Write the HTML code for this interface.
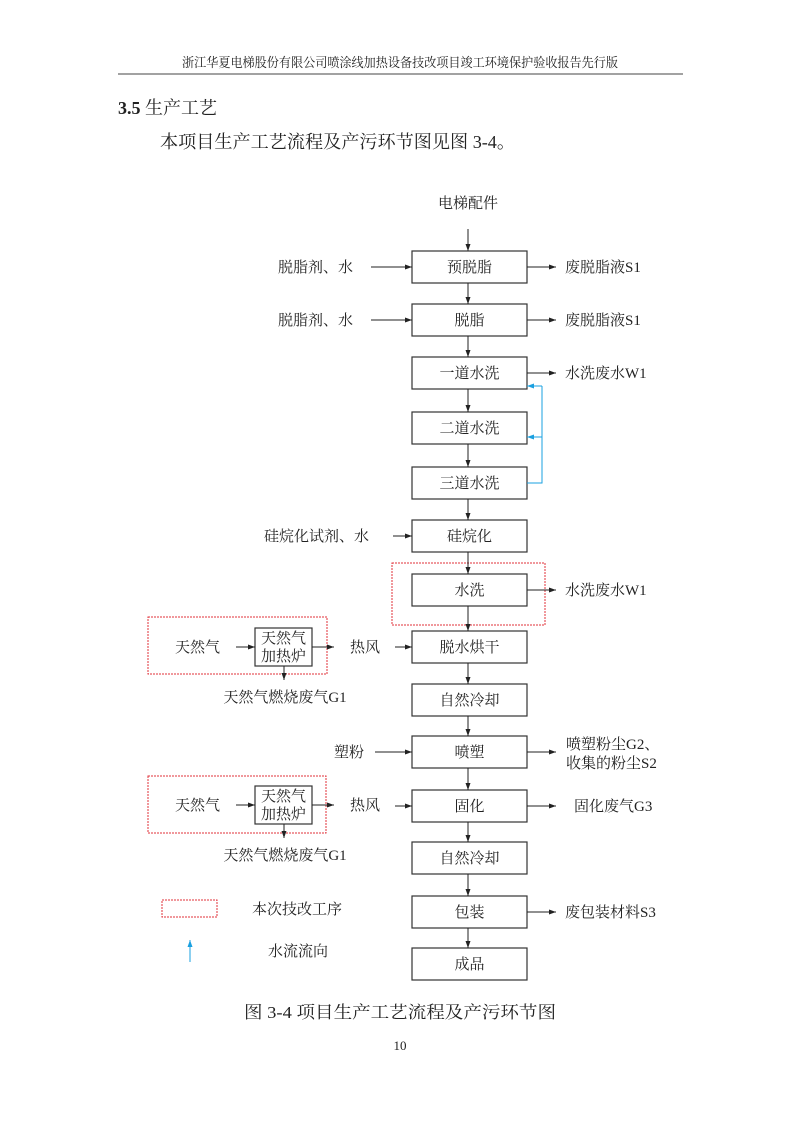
<!DOCTYPE html>
<html><head><meta charset="utf-8"><style>
html,body{margin:0;padding:0;background:#fff}
svg{display:block}
text{font-family:"Liberation Serif","Noto Serif CJK SC",serif;fill:#222}
</style></head><body>
<svg width="800" height="1132" viewBox="0 0 800 1132" xmlns="http://www.w3.org/2000/svg">
<defs>
<marker id="a" markerWidth="8" markerHeight="6" refX="7" refY="3" orient="auto" markerUnits="userSpaceOnUse"><path d="M0,0.5 L7,3 L0,5.5z" fill="#222"/></marker>
<marker id="b" markerWidth="8" markerHeight="6" refX="7" refY="3" orient="auto" markerUnits="userSpaceOnUse"><path d="M0,0.5 L7,3 L0,5.5z" fill="#1aa0e0"/></marker>
</defs>
<text x="400" y="67" font-size="13" text-anchor="middle" textLength="436" lengthAdjust="spacingAndGlyphs">浙江华夏电梯股份有限公司喷涂线加热设备技改项目竣工环境保护验收报告先行版</text>
<line x1="118" y1="74" x2="683" y2="74" stroke="#444" stroke-width="1"/>
<text x="118" y="114" font-size="18"><tspan font-weight="bold">3.5</tspan> 生产工艺</text>
<text x="160" y="148" font-size="18" textLength="355" lengthAdjust="spacingAndGlyphs">本项目生产工艺流程及产污环节图见图 3-4。</text>

<g font-size="15">
<text x="468" y="208" text-anchor="middle">电梯配件</text>
<line x1="468" y1="229" x2="468" y2="251" stroke="#222" marker-end="url(#a)"/>

<g fill="none" stroke="#333" stroke-width="1.2">
<rect x="412" y="251" width="115" height="32"/>
<rect x="412" y="304" width="115" height="32"/>
<rect x="412" y="357" width="115" height="32"/>
<rect x="412" y="412" width="115" height="32"/>
<rect x="412" y="467" width="115" height="32"/>
<rect x="412" y="520" width="115" height="32"/>
<rect x="412" y="574" width="115" height="32"/>
<rect x="412" y="631" width="115" height="32"/>
<rect x="412" y="684" width="115" height="32"/>
<rect x="412" y="736" width="115" height="32"/>
<rect x="412" y="790" width="115" height="32"/>
<rect x="412" y="842" width="115" height="32"/>
<rect x="412" y="896" width="115" height="32"/>
<rect x="412" y="948" width="115" height="32"/>
<rect x="255" y="628" width="57" height="38"/>
<rect x="255" y="786" width="57" height="38"/>
</g>
<g fill="none" stroke="#e0303a" stroke-width="1" stroke-dasharray="2,1">
<rect x="392" y="563" width="153" height="62"/>
<rect x="148" y="617" width="179" height="57"/>
<rect x="148" y="776" width="178" height="57"/>
<rect x="162" y="900" width="55" height="17"/>
</g>

<g stroke="#222" stroke-width="1" marker-end="url(#a)">
<line x1="468" y1="283" x2="468" y2="304"/>
<line x1="468" y1="336" x2="468" y2="357"/>
<line x1="468" y1="389" x2="468" y2="412"/>
<line x1="468" y1="444" x2="468" y2="467"/>
<line x1="468" y1="499" x2="468" y2="520"/>
<line x1="468" y1="552" x2="468" y2="574"/>
<line x1="468" y1="606" x2="468" y2="631"/>
<line x1="468" y1="663" x2="468" y2="684"/>
<line x1="468" y1="716" x2="468" y2="736"/>
<line x1="468" y1="768" x2="468" y2="790"/>
<line x1="468" y1="822" x2="468" y2="842"/>
<line x1="468" y1="874" x2="468" y2="896"/>
<line x1="468" y1="928" x2="468" y2="948"/>
<line x1="371" y1="267" x2="412" y2="267"/>
<line x1="371" y1="320" x2="412" y2="320"/>
<line x1="393" y1="536" x2="412" y2="536"/>
<line x1="395" y1="647" x2="412" y2="647"/>
<line x1="375" y1="752" x2="412" y2="752"/>
<line x1="395" y1="806" x2="412" y2="806"/>
<line x1="527" y1="267" x2="556" y2="267"/>
<line x1="527" y1="320" x2="556" y2="320"/>
<line x1="527" y1="373" x2="556" y2="373"/>
<line x1="527" y1="590" x2="556" y2="590"/>
<line x1="527" y1="752" x2="556" y2="752"/>
<line x1="527" y1="806" x2="556" y2="806"/>
<line x1="527" y1="912" x2="556" y2="912"/>
<line x1="236" y1="647" x2="255" y2="647"/>
<line x1="312" y1="647" x2="334" y2="647"/>
<line x1="284" y1="666" x2="284" y2="680"/>
<line x1="236" y1="805" x2="255" y2="805"/>
<line x1="312" y1="805" x2="334" y2="805"/>
<line x1="284" y1="824" x2="284" y2="838"/>
</g>

<g stroke="#1aa0e0" stroke-width="1" fill="none">
<polyline points="527,483 542,483 542,386"/>
<line x1="542" y1="386" x2="527" y2="386" marker-end="url(#b)"/>
<line x1="542" y1="437" x2="527" y2="437" marker-end="url(#b)"/>
<line x1="190" y1="962" x2="190" y2="940" marker-end="url(#b)"/>
</g>

<g text-anchor="middle">
<text x="469.5" y="272">预脱脂</text>
<text x="469.5" y="325">脱脂</text>
<text x="469.5" y="378">一道水洗</text>
<text x="469.5" y="433">二道水洗</text>
<text x="469.5" y="488">三道水洗</text>
<text x="469.5" y="541">硅烷化</text>
<text x="469.5" y="595">水洗</text>
<text x="469.5" y="652">脱水烘干</text>
<text x="469.5" y="705">自然冷却</text>
<text x="469.5" y="757">喷塑</text>
<text x="469.5" y="811">固化</text>
<text x="469.5" y="863">自然冷却</text>
<text x="469.5" y="917">包装</text>
<text x="469.5" y="969">成品</text>
<text x="283.5" y="643">天然气</text>
<text x="283.5" y="661">加热炉</text>
<text x="283.5" y="801">天然气</text>
<text x="283.5" y="819">加热炉</text>
<text x="285" y="702">天然气燃烧废气G1</text>
<text x="285" y="860">天然气燃烧废气G1</text>
</g>
<text x="278" y="272">脱脂剂、水</text>
<text x="278" y="325">脱脂剂、水</text>
<text x="264" y="541">硅烷化试剂、水</text>
<text x="175" y="652">天然气</text>
<text x="175" y="810">天然气</text>
<text x="350" y="652">热风</text>
<text x="350" y="810">热风</text>
<text x="334" y="757">塑粉</text>
<text x="565" y="272">废脱脂液S1</text>
<text x="565" y="325">废脱脂液S1</text>
<text x="565" y="378">水洗废水W1</text>
<text x="565" y="595">水洗废水W1</text>
<text x="566" y="749">喷塑粉尘G2、</text>
<text x="566" y="768">收集的粉尘S2</text>
<text x="574" y="811">固化废气G3</text>
<text x="565" y="917">废包装材料S3</text>
<text x="252" y="914">本次技改工序</text>
<text x="268" y="956">水流流向</text>
</g>
<text x="400" y="1018" font-size="17" text-anchor="middle" textLength="312" lengthAdjust="spacingAndGlyphs">图 3-4 项目生产工艺流程及产污环节图</text>
<text x="400" y="1050" font-size="13" text-anchor="middle">10</text>
</svg>
</body></html>
